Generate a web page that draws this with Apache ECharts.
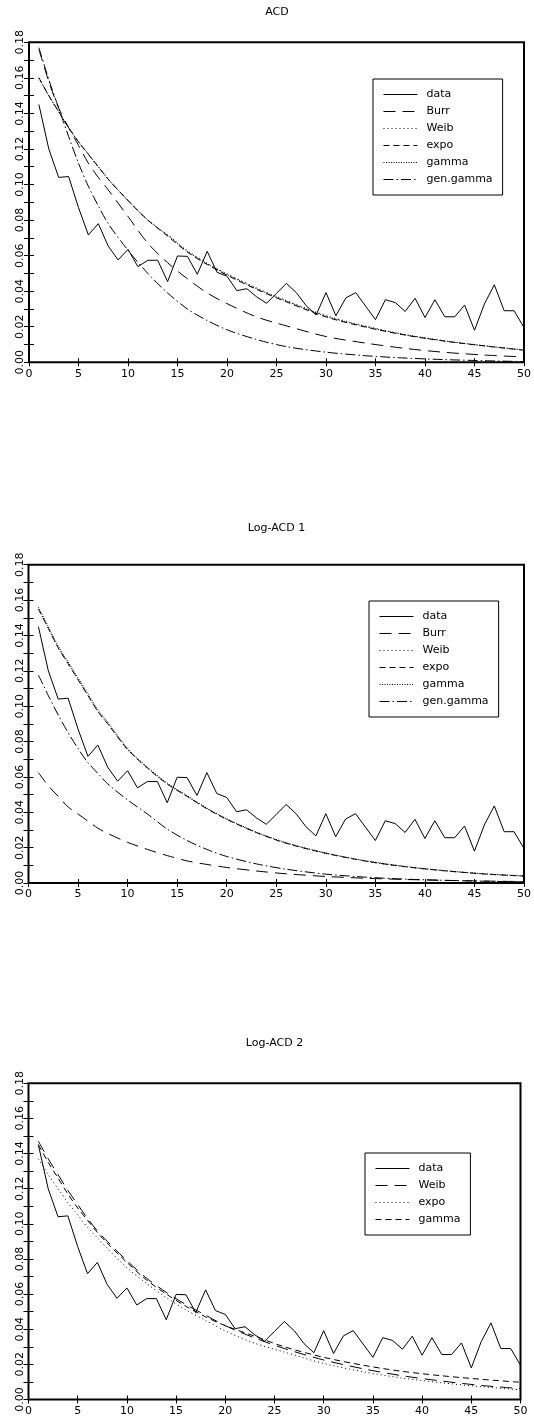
<!DOCTYPE html>
<html><head><meta charset="utf-8">
<script src="https://cdn.jsdelivr.net/npm/echarts@6/dist/echarts.min.js"></script>
<style>html,body{margin:0;padding:0;background:#fff}#c{width:534px;height:1420px}</style>
</head><body><div id="c"></div>
<script>
// ---- observed data (same in all three panels) ----
const lags = [1,2,3,4,5,6,7,8,9,10,11,12,13,14,15,16,17,18,19,20,21,22,23,24,25,26,27,28,29,30,31,32,33,34,35,36,37,38,39,40,41,42,43,44,45,46,47,48,49,50];
const observed = [0.145,0.120,0.104,0.1045,0.087,0.0716,0.078,0.0654,0.0576,0.0635,0.0538,0.0574,0.0574,0.0454,0.0598,0.0596,0.0495,0.0624,0.0506,0.0484,0.0403,0.0414,0.0368,0.0332,0.0388,0.0444,0.0392,0.0318,0.0266,0.0392,0.0262,0.0362,0.0392,0.0316,0.0240,0.0352,0.0336,0.0286,0.0360,0.0252,0.0352,0.0256,0.0256,0.0322,0.0180,0.0328,0.0436,0.0290,0.0290,0.0195];

// ---- lags at which the fitted curves were read ----
const modelX = [1,2,3,4,5,6,7,8,10,12,14,16,18,20,23,26,30,34,38,42,46,50];

// Panel 1: ACD
const acdBurr  = [0.176,0.158,0.143,0.132,0.122,0.112,0.104,0.097,0.082,0.067,0.056,0.047,0.039,0.033,0.0255,0.0205,0.0145,0.0108,0.0078,0.0056,0.0041,0.0030];
const acdWeib  = [0.160,0.150,0.141,0.132,0.124,0.117,0.110,0.103,0.091,0.080,0.0718,0.0628,0.0558,0.0498,0.0418,0.0348,0.0263,0.0204,0.0156,0.0120,0.0093,0.0069];
const acdExpo  = [0.160,0.150,0.141,0.132,0.124,0.117,0.110,0.103,0.091,0.080,0.071,0.062,0.055,0.049,0.041,0.034,0.0255,0.0198,0.0153,0.0119,0.0092,0.0068];
const acdGamma = [0.160,0.150,0.141,0.132,0.124,0.117,0.110,0.103,0.091,0.080,0.0714,0.0624,0.0554,0.0494,0.0414,0.0344,0.0259,0.0201,0.0155,0.0120,0.0093,0.0069];
const acdGenGamma = [0.177,0.159,0.143,0.127,0.112,0.099,0.088,0.078,0.063,0.050,0.039,0.030,0.0235,0.0183,0.0128,0.0088,0.0057,0.0037,0.0024,0.0015,0.0009,0.0004];

// Panel 2: Log-ACD 1
const log1Burr  = [0.0624,0.055,0.049,0.043,0.039,0.035,0.031,0.028,0.023,0.019,0.0155,0.0125,0.0105,0.0088,0.0068,0.0052,0.0037,0.0027,0.0020,0.0015,0.0011,0.0008];
const log1Weib  = [0.155,0.144,0.133,0.124,0.115,0.106,0.097,0.090,0.0755,0.065,0.056,0.049,0.042,0.036,0.0285,0.0225,0.0168,0.0124,0.0092,0.0069,0.0051,0.0039];
const log1Expo  = [0.155,0.144,0.133,0.124,0.115,0.106,0.097,0.090,0.0755,0.065,0.056,0.049,0.042,0.036,0.0285,0.0225,0.0168,0.0124,0.0092,0.0069,0.0051,0.0039];
const log1Gamma = [0.156,0.145,0.134,0.125,0.116,0.107,0.098,0.091,0.0762,0.0655,0.0565,0.0494,0.0424,0.0364,0.0288,0.0228,0.0170,0.0126,0.0094,0.0070,0.0052,0.0040];
const log1GenGamma = [0.1176,0.106,0.095,0.085,0.076,0.068,0.062,0.056,0.047,0.039,0.0305,0.024,0.019,0.015,0.0108,0.0078,0.0050,0.0033,0.0022,0.0015,0.0010,0.0007];

// Panel 3: Log-ACD 2
const log2Weib  = [0.147,0.137,0.128,0.119,0.111,0.103,0.096,0.090,0.079,0.069,0.061,0.054,0.048,0.042,0.035,0.029,0.0225,0.0175,0.0135,0.0105,0.0080,0.0062];
const log2Expo  = [0.137,0.128,0.120,0.112,0.105,0.098,0.092,0.086,0.075,0.066,0.058,0.051,0.045,0.039,0.032,0.027,0.0205,0.0158,0.0122,0.0095,0.0073,0.0055];
const log2Gamma = [0.145,0.135,0.126,0.117,0.109,0.102,0.095,0.089,0.078,0.068,0.060,0.053,0.047,0.042,0.036,0.030,0.024,0.0195,0.0160,0.0135,0.0115,0.0098];

const yTicks = [0.00,0.02,0.04,0.06,0.08,0.10,0.12,0.14,0.16,0.18];

// ---- styles ----
const FONT = 'DejaVu Sans';
const dash = {
  long: [12, 7],
  dot: [1, 3],
  med: [6, 4],
  dense: [1, 1.5],
  dashdot: [10, 3, 1.5, 3]
};

const panels = [
  { title: 'ACD', grid: {left: 29, top: 42.3, width: 496, height: 320}, titleTop: 6.5,
    legend: {left: 373, top: 79},
    curves: [['Burr', acdBurr, dash.long], ['Weib', acdWeib, dash.dot], ['expo', acdExpo, dash.med], ['gamma', acdGamma, dash.dense], ['gen.gamma', acdGenGamma, dash.dashdot]] },
  { title: 'Log-ACD 1', grid: {left: 28.5, top: 564.7, width: 496, height: 318.3}, titleTop: 522.5,
    legend: {left: 369, top: 601},
    curves: [['Burr', log1Burr, dash.long], ['Weib', log1Weib, dash.dot], ['expo', log1Expo, dash.med], ['gamma', log1Gamma, dash.dense], ['gen.gamma', log1GenGamma, dash.dashdot]] },
  { title: 'Log-ACD 2', grid: {left: 28.5, top: 1083.2, width: 492, height: 316.3}, titleTop: 1037.5,
    legend: {left: 365, top: 1153},
    curves: [['Weib', log2Weib, dash.long], ['expo', log2Expo, dash.dot], ['gamma', log2Gamma, dash.med]] }
];

const zip = (xs, ys) => xs.map((x, i) => [x, ys[i]]);

const option = {
  animation: false,
  backgroundColor: '#fff',
  title: [], grid: [], xAxis: [], yAxis: [], legend: [], series: []
};

panels.forEach((p, gi) => {
  option.title.push({ text: p.title, left: p.grid.left + p.grid.width / 2, top: p.titleTop, textAlign: 'center', padding: 0,
    textStyle: { fontFamily: FONT, fontSize: 11, fontWeight: 'normal', color: '#000' } });
  option.grid.push(Object.assign({ show: true, borderColor: '#000', borderWidth: 2, backgroundColor: 'transparent' }, p.grid));
  const xBase = { gridIndex: gi, type: 'value', min: 0, max: 50, interval: 5,
    axisLine: { show: false }, splitLine: { show: false },
    axisTick: { inside: true, length: 4, lineStyle: { color: '#000', width: 1 } } };
  option.xAxis.push(Object.assign({}, xBase, { position: 'bottom',
    axisLabel: { fontFamily: FONT, fontSize: 11, color: '#000', margin: 6 } }));
  option.xAxis.push(Object.assign({}, xBase, { position: 'top', axisLabel: { show: false } }));
  const yBase = { gridIndex: gi, type: 'value', min: 0, max: 0.18, interval: 0.01,
    axisLine: { show: false }, splitLine: { show: false },
    axisTick: { inside: true, length: 5, lineStyle: { color: '#000', width: 1 } } };
  option.yAxis.push(Object.assign({}, yBase, { position: 'left',
    axisLabel: { fontFamily: FONT, fontSize: 11, color: '#000', rotate: 90, margin: 3,
      formatter: v => { const t = yTicks.find(k => Math.abs(k - v) < 1e-6); return t === undefined ? '' : t.toFixed(2); } } }));
  option.yAxis.push(Object.assign({}, yBase, { position: 'right', axisLabel: { show: false } }));

  const xi = gi * 2, yi = gi * 2;
  const names = [];
  const dataName = 'data|' + gi;
  names.push(dataName);
  option.series.push({ name: dataName, type: 'line', xAxisIndex: xi, yAxisIndex: yi, data: zip(lags, observed),
    symbol: 'none', lineStyle: { color: '#000', width: 1, type: 'solid' }, itemStyle: { color: '#000' } });
  p.curves.forEach(([nm, vals, d]) => {
    const full = nm + '|' + gi;
    names.push(full);
    option.series.push({ name: full, type: 'line', xAxisIndex: xi, yAxisIndex: yi, data: zip(modelX, vals),
      symbol: 'none', smooth: 0.3, lineStyle: { color: '#000', width: 1, type: d }, itemStyle: { color: '#000' } });
  });
  option.legend.push({ data: names, orient: 'vertical', left: p.legend.left, top: p.legend.top,
    padding: [10, 10, 10, 10], itemWidth: 34, itemHeight: 9, itemGap: 6, borderColor: '#000', borderWidth: 1,
    backgroundColor: '#fff', selectedMode: false,
    itemStyle: { color: 'rgba(0,0,0,0)', borderWidth: 0, opacity: 0 },
    lineStyle: { width: 1 },
    formatter: n => n.split('|')[0],
    textStyle: { fontFamily: FONT, fontSize: 11, color: '#000', padding: [0, 0, 0, 4] } });
});

const chart = echarts.init(document.getElementById('c'), null, { renderer: 'canvas' });
chart.setOption(option);
</script>
</body></html>
